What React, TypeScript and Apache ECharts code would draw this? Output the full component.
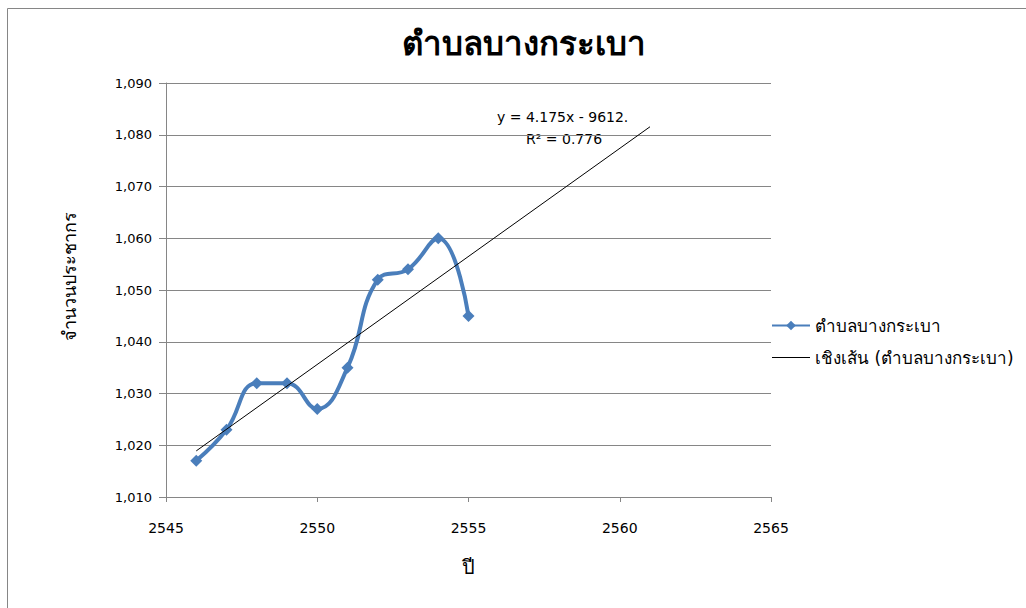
import React, { useEffect, useRef } from "react";
import * as echarts from "echarts";

const years = [2546, 2547, 2548, 2549, 2550, 2551, 2552, 2553, 2554, 2555];
const population = [1017, 1023, 1032, 1032, 1027, 1035, 1052, 1054, 1060, 1045];
const trendEndYear = 2561;
const titleText = "ตำบลบางกระเบา";
const seriesName = "ตำบลบางกระเบา";
const trendName = "เชิงเส้น (ตำบลบางกระเบา)";
const yAxisName = "จำนวนประชากร";
const xAxisName = "ปี";
const equationText = "y = 4.175x - 9612.";
const r2Text = "R² = 0.776";

function regression(xs: number[], ys: number[]) {
  const n = xs.length;
  const mx = xs.reduce((a, b) => a + b, 0) / n;
  const my = ys.reduce((a, b) => a + b, 0) / n;
  let sxy = 0, sxx = 0;
  for (let i = 0; i < n; i++) {
    sxy += (xs[i] - mx) * (ys[i] - my);
    sxx += (xs[i] - mx) * (xs[i] - mx);
  }
  const slope = sxy / sxx;
  return { slope, intercept: my - slope * mx };
}

export default function App() {
  const ref = useRef<HTMLDivElement>(null);
  useEffect(() => {
    const chart = echarts.init(ref.current!, null, { renderer: "svg" });
    const { slope, intercept } = regression(years, population);
    const trend = [
      [years[0], slope * years[0] + intercept],
      [trendEndYear, slope * trendEndYear + intercept],
    ];
    const font = "Tahoma, 'DejaVu Sans', 'Noto Sans', sans-serif";
    chart.setOption({
      animation: false,
      backgroundColor: "#ffffff",
      title: {
        text: titleText,
        left: 519,
        top: 22,
        textAlign: "center",
        textStyle: { fontSize: 33, fontWeight: "bold", color: "#000", fontFamily: font },
      },
      grid: { left: 166, top: 83, width: 605, height: 414 },
      legend: {
        orient: "vertical",
        left: 766,
        top: 312,
        itemGap: 15,
        itemWidth: 38,
        itemHeight: 12,
        textStyle: { fontSize: 17, color: "#000", fontFamily: font },
        data: [
          { name: seriesName },
          { name: trendName, icon: "path://M0,0 L40,0 L40,1 L0,1 Z", itemStyle: { color: "#000" } },
        ],
      },
      xAxis: {
        type: "value",
        min: 2545,
        max: 2565,
        interval: 5,
        name: xAxisName,
        nameLocation: "middle",
        nameGap: 60,
        nameTextStyle: { fontSize: 20, color: "#000", fontFamily: "'DejaVu Serif', serif" },
        axisLine: { show: true, lineStyle: { color: "#868686", width: 1 } },
        axisTick: { show: true, length: 5, lineStyle: { color: "#868686" } },
        axisLabel: {
          fontSize: 14,
          color: "#000",
          margin: 24,
          fontFamily: font,
          formatter: (v: number) => String(v),
        },
        splitLine: { show: false },
      },
      yAxis: {
        type: "value",
        min: 1010,
        max: 1090,
        interval: 10,
        name: yAxisName,
        nameLocation: "middle",
        nameGap: 88,
        nameRotate: 90,
        nameTextStyle: { fontSize: 18, color: "#000", fontFamily: font, padding: [0, 0, 0, 28] },
        axisLine: { show: true, lineStyle: { color: "#868686", width: 1 } },
        axisTick: { show: true, length: 7, lineStyle: { color: "#868686" } },
        axisLabel: {
          fontSize: 13,
          color: "#000",
          margin: 14,
          fontFamily: font,
          formatter: (v: number) => v.toLocaleString("en-US"),
        },
        splitLine: { show: true, lineStyle: { color: "#868686", width: 1 } },
      },
      series: [
        {
          name: seriesName,
          type: "line",
          smooth: 0.45,
          data: years.map((y, i) => [y, population[i]]),
          symbol: "diamond",
          symbolSize: 12,
          itemStyle: { color: "#4a7ebb" },
          lineStyle: { color: "#4a7ebb", width: 4 },
          z: 3,
        },
        {
          name: trendName,
          type: "line",
          data: trend,
          symbol: "none",
          itemStyle: { color: "#000" },
          lineStyle: { color: "#000", width: 1 },
          z: 4,
        },
      ],
      graphic: [
        {
          type: "rect",
          shape: { x: 7.5, y: 8.5, width: 1040, height: 620 },
          style: { fill: "none", stroke: "#868686", lineWidth: 1 },
          silent: true,
        },
        {
          type: "text",
          left: 497,
          top: 110,
          style: { text: equationText, fontSize: 14, fill: "#000", fontFamily: font },
        },
        {
          type: "text",
          left: 526,
          top: 132,
          style: { text: r2Text, fontSize: 14, fill: "#000", fontFamily: font },
        },
      ],
    });
    return () => chart.dispose();
  }, []);
  return (
    <div
      ref={ref}
      style={{ position: "absolute", left: 0, top: 0, width: 1026, height: 608 }}
    />
  );
}
